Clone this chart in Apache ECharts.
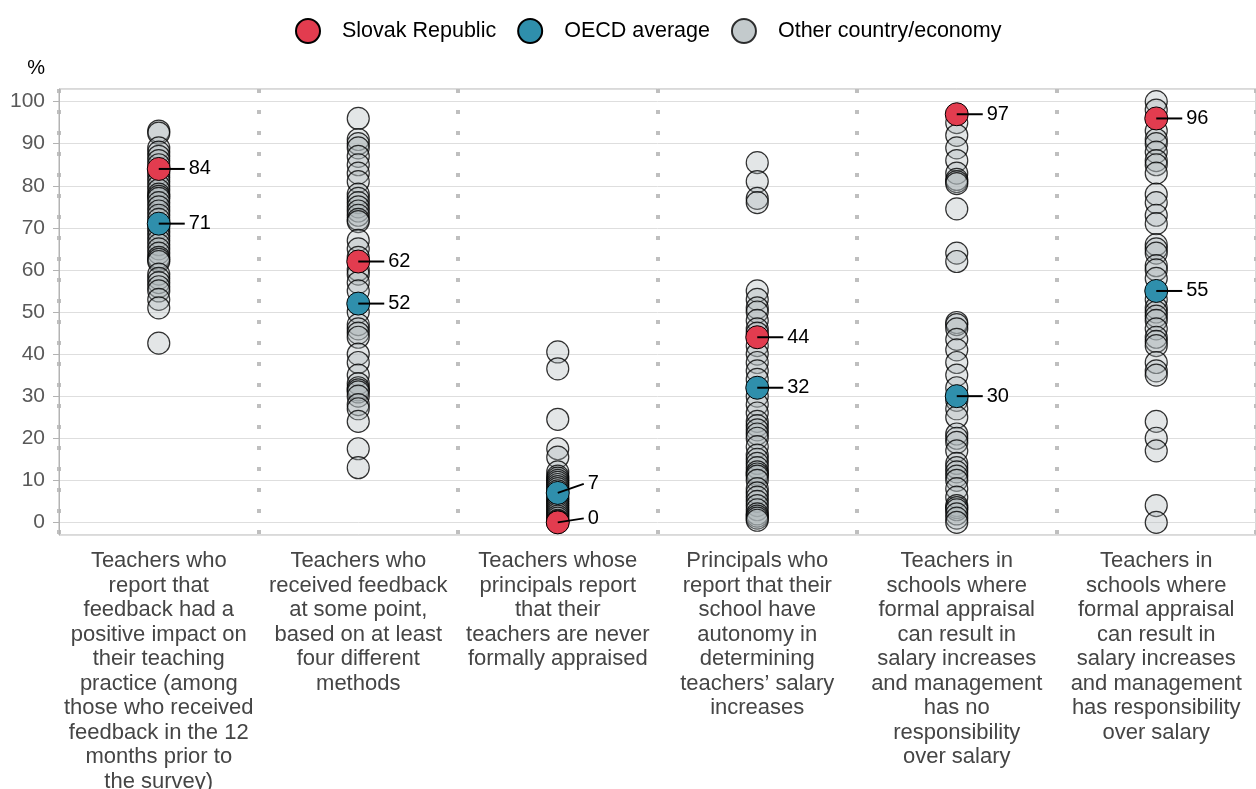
<!DOCTYPE html>
<html>
<head>
<meta charset="utf-8">
<script src="https://cdn.jsdelivr.net/npm/echarts@6/dist/echarts.min.js"></script>
<style>
  html, body { margin: 0; padding: 0; background: #fff; }
  #chart { width: 1256px; height: 789px; }
</style>
</head>
<body>
<div id="chart"></div>
<script>
// category labels (x axis)
const categories = [
  'Teachers who\nreport that\nfeedback had a\npositive impact on\ntheir teaching\npractice (among\nthose who received\nfeedback in the 12\nmonths prior to\nthe survey)',
  'Teachers who\nreceived feedback\nat some point,\nbased on at least\nfour different\nmethods',
  'Teachers whose\nprincipals report\nthat their\nteachers are never\nformally appraised',
  'Principals who\nreport that their\nschool have\nautonomy in\ndetermining\nteachers\u2019 salary\nincreases',
  'Teachers in\nschools where\nformal appraisal\ncan result in\nsalary increases\nand management\nhas no\nresponsibility\nover salary',
  'Teachers in\nschools where\nformal appraisal\ncan result in\nsalary increases\nand management\nhas responsibility\nover salary'
]

const slovak = [84, 62, 0, 44, 97, 96]
const oecd = [71, 52, 7, 32, 30, 55]

// other countries / economies, one list per category
const otherFeedbackImpact = [93, 92.5, 89, 88, 87, 86, 85, 83, 82, 81, 80, 79, 78, 77.5, 77, 76, 75, 74, 73, 72,
  70, 69, 68, 67, 66, 65, 64, 63, 62.5, 62, 59, 58, 57, 56, 55, 53, 51, 42.6]
const otherFourMethods = [96, 91, 90, 89, 87, 85, 83, 81, 78, 77, 76, 75, 74, 73, 72, 71.5, 67, 65, 63, 60, 59,
  57, 55, 50, 47, 46, 45, 44, 40, 38, 35, 33, 32, 31.5, 31, 30, 28, 27, 24, 17.5, 13]
const otherNeverAppraised = [40.5, 36.5, 24.5, 17.5, 15.5, 12, 11, 10.5, 10, 9.5, 9, 8.5, 8, 7.5, 6, 5.5, 5,
  4.5, 4, 3.5, 3, 2.5, 2, 1.5, 1, 0.5, 0.3, 0]
const otherSalaryAutonomy = [85.5, 81, 77, 76, 55, 53, 51, 50, 48, 46, 45, 42, 40, 38, 36, 34, 30, 28, 26, 24,
  23, 22, 21, 20, 18, 16, 15, 14, 13, 12, 11.5, 11, 10, 8, 7, 6, 5, 4, 3, 2, 1.5, 1, 0.5]
const otherNoResponsibility = [95, 92, 89, 86, 83, 81.5, 81, 80.5, 74.5, 64, 62, 47.5, 47, 46, 43.5, 41, 38, 35,
  32, 29, 27, 25, 21, 20, 19, 17, 14, 13, 12, 11, 10, 8, 6, 4, 3.5, 3, 2, 1, 0]
const otherResponsibility = [100, 98, 93, 91, 90, 88, 86, 85, 83, 78, 76, 73, 71, 66, 65, 64, 61, 60, 58, 53,
  51, 50, 49, 48, 46, 44, 43, 42, 38, 36, 35, 24, 20, 17, 4, 0]

const others = [otherFeedbackImpact, otherFourMethods, otherNeverAppraised,
  otherSalaryAutonomy, otherNoResponsibility, otherResponsibility]

const FONT = 'Arial, "Liberation Sans", sans-serif'
const RED = '#e23c4f'
const BLUE = '#2f8fac'

const otherData = []
others.forEach((list, i) => list.forEach(v => otherData.push([i, v])))
const slovakData = slovak.map((v, i) => [i, v])
const oecdData = oecd.map((v, i) => [i, v])
const labelData = slovakData.concat(oecdData)

const chart = echarts.init(document.getElementById('chart'))

chart.setOption({
  animation: false,
  textStyle: { fontFamily: FONT },
  legend: {
    top: 13,
    left: 290,
    itemWidth: 24,
    itemHeight: 24,
    itemGap: 21,
    textStyle: { fontSize: 21.5, color: '#000', padding: [0, 0, 0, 17] },
    data: [
      { name: 'Slovak Republic', icon: 'circle' },
      { name: 'OECD average', icon: 'circle' },
      { name: 'Other country/economy', icon: 'circle', itemStyle: { color: '#c3cacc' } }
    ]
  },
  grid: {
    left: 59,
    right: 0,
    top: 89,
    bottom: 254,
    outerBoundsMode: 'none',
    show: true,
    borderColor: '#b3b3b3',
    borderWidth: 1
  },
  xAxis: {
    type: 'category',
    data: categories,
    boundaryGap: true,
    axisLine: { show: false },
    axisTick: { show: false },
    axisLabel: {
      interval: 0,
      fontSize: 22,
      lineHeight: 24.5,
      color: '#454545',
      margin: 14
    },
    splitLine: {
      show: true,
      lineStyle: { color: '#bfbfbf', width: 4, type: [4, 17] }
    }
  },
  yAxis: {
    type: 'value',
    min: -3,
    max: 103,
    splitNumber: 10,
    name: '%',
    nameLocation: 'end',
    nameGap: 11,
    nameTextStyle: { fontSize: 20, color: '#000', align: 'right', padding: [0, 14, 0, 0] },
    axisLine: { show: true, lineStyle: { color: '#b3b3b3' } },
    axisTick: { show: true, length: 6, lineStyle: { color: '#b3b3b3' } },
    axisLabel: {
      fontSize: 21,
      color: '#595959',
      margin: 14,
      showMinLabel: false,
      showMaxLabel: false,
      formatter: v => (v % 10 === 0 ? v : '')
    },
    splitLine: { lineStyle: { color: '#dedede', width: 1 } }
  },
  series: [
    {
      name: 'Other country/economy',
      type: 'scatter',
      data: otherData,
      symbolSize: 22,
      itemStyle: {
        color: 'rgba(172,182,185,0.34)',
        borderColor: 'rgba(0,0,0,0.8)',
        borderWidth: 1.2,
        opacity: 1
      },
      z: 2
    },
    {
      name: 'Slovak Republic',
      type: 'scatter',
      data: slovakData,
      symbolSize: 23,
      itemStyle: { color: RED, borderColor: '#000', borderWidth: 1, opacity: 1 },
      z: 3
    },
    {
      name: 'OECD average',
      type: 'scatter',
      data: oecdData,
      symbolSize: 23,
      itemStyle: { color: BLUE, borderColor: '#000', borderWidth: 1, opacity: 1 },
      z: 3
    },
    {
      // leader lines and value labels for the highlighted points
      type: 'custom',
      data: labelData,
      z: 4,
      silent: true,
      renderItem(params, api) {
        const cat = api.value(0)
        const val = api.value(1)
        const p = api.coord([cat, val])
        // small repel when the two highlighted points sit close together
        let dy = 0
        if (Math.abs(slovak[cat] - oecd[cat]) < 9) {
          dy = val >= Math.max(slovak[cat], oecd[cat]) ? -9 : -4
        }
        return {
          type: 'group',
          children: [
            {
              type: 'line',
              shape: { x1: p[0], y1: p[1], x2: p[0] + 26, y2: p[1] + dy },
              style: { stroke: '#000', lineWidth: 2 }
            },
            {
              type: 'text',
              style: {
                text: String(val),
                x: p[0] + 30,
                y: p[1] + dy,
                verticalAlign: 'middle',
                font: '20px ' + FONT,
                fill: '#000'
              }
            }
          ]
        }
      }
    }
  ]
})
</script>
</body>
</html>
